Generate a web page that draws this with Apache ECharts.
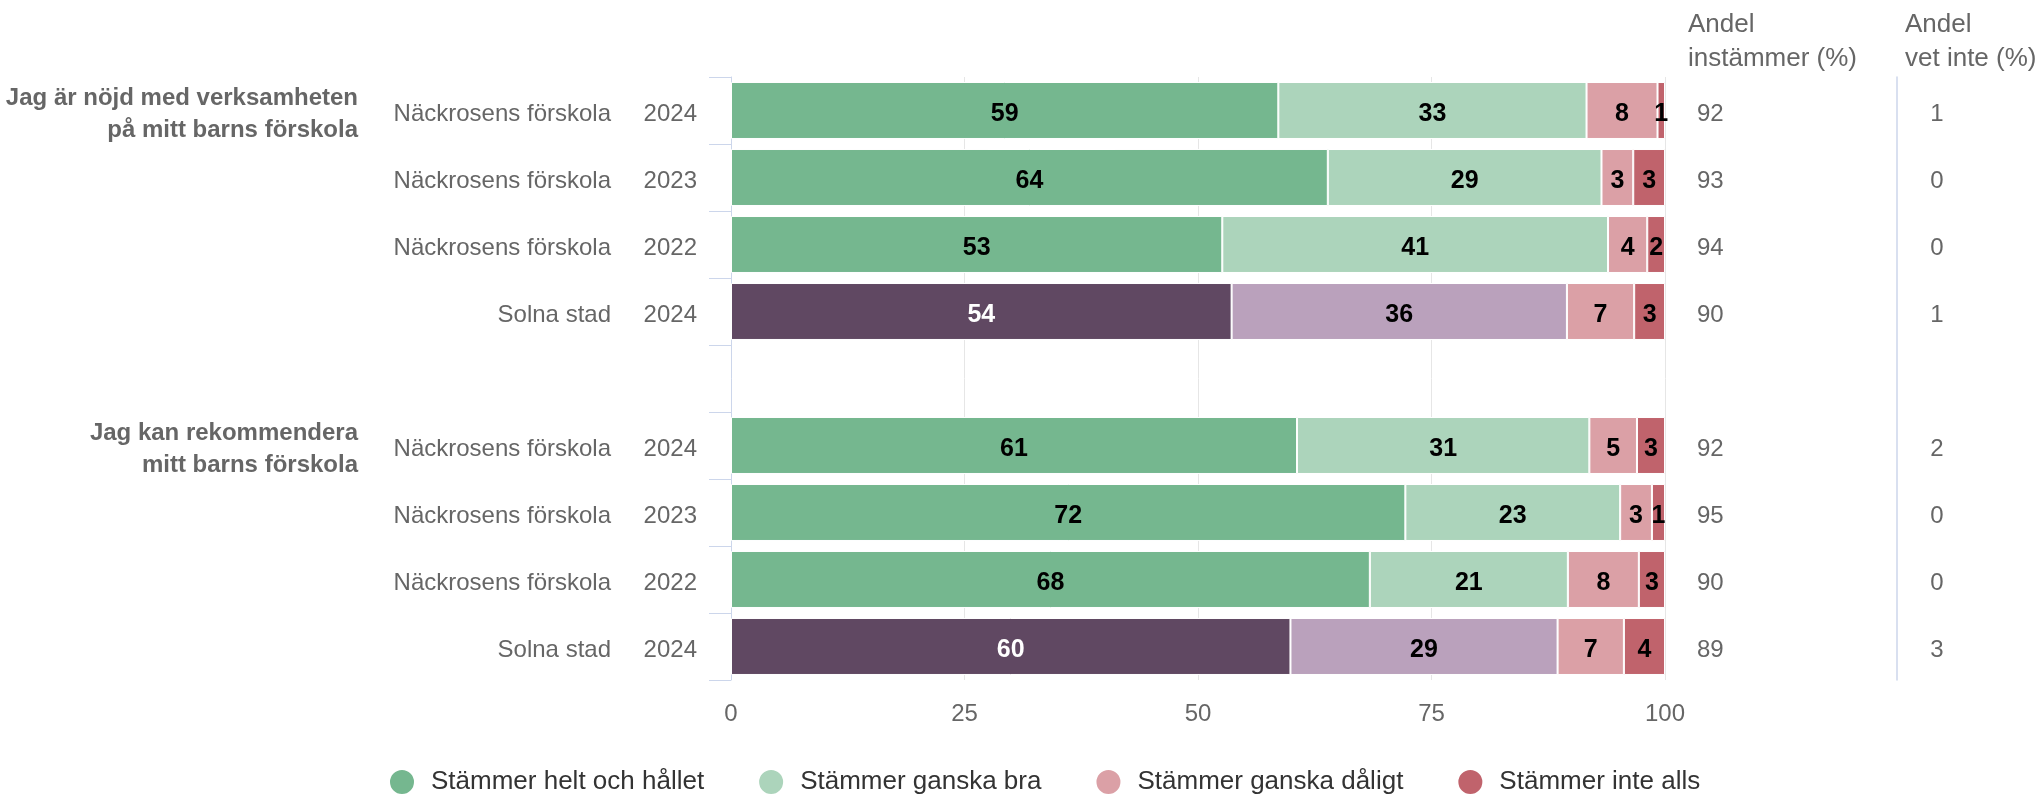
<!DOCTYPE html>
<html>
<head>
<meta charset="utf-8">
<script src="https://cdn.jsdelivr.net/npm/echarts@6/dist/echarts.min.js"></script>
<style>
html,body{margin:0;padding:0;background:#fff;}
#chart{width:2044px;height:795px;}
</style>
</head>
<body>
<div id="chart"></div>
<script>
// ---- data ----
const rowGroupLabels = [['Jag är nöjd med verksamheten', 'på mitt barns förskola'], null, null, null, null, ['Jag kan rekommendera', 'mitt barns förskola'], null, null, null];
const units = ['Näckrosens förskola', 'Näckrosens förskola', 'Näckrosens förskola', 'Solna stad', '', 'Näckrosens förskola', 'Näckrosens förskola', 'Näckrosens förskola', 'Solna stad'];
const years = ['2024', '2023', '2022', '2024', '', '2024', '2023', '2022', '2024'];
const isCity = [false, false, false, true, false, false, false, false, true];
const seriesNames = ['Stämmer helt och hållet', 'Stämmer ganska bra', 'Stämmer ganska dåligt', 'Stämmer inte alls'];
const heltOchHallet = [58.6, 63.9, 52.6, 53.6, null, 60.6, 72.2, 68.4, 59.9];
const ganskaBra     = [33.0, 29.3, 41.3, 35.9, null, 31.3, 23.0, 21.2, 28.6];
const ganskaDaligt  = [7.6, 3.4, 4.2, 7.2, null, 5.1, 3.4, 7.6, 7.1];
const inteAlls      = [0.8, 3.4, 1.9, 3.3, null, 3.0, 1.4, 2.8, 4.4];
const andelInstammer = [92, 93, 94, 90, null, 92, 95, 90, 89];
const andelVetInte   = [1, 0, 0, 1, null, 2, 0, 0, 3];
const xTicks = [0, 25, 50, 75, 100];

// ---- styles ----
const schoolColors = ['#75b78f', '#acd4bb', '#dba0a6', '#c0636c'];
const cityColors   = ['#604862', '#baa1bc', '#dba0a6', '#c0636c'];
const FONT = 'Liberation Sans, Arial, Helvetica, sans-serif';
const AXIS_BLUE = '#ccd6eb';
const TXT = '#666666';

const seriesValues = [heltOchHallet, ganskaBra, ganskaDaligt, inteAlls];
const catData = units.map((u, i) => u + '|' + years[i] + '|' + i);

const series = seriesValues.map((vals, si) => ({
  name: seriesNames[si],
  type: 'bar',
  stack: 'total',
  barCategoryGap: '15%',
  yAxisIndex: 0,
  itemStyle: { color: schoolColors[si], borderColor: '#ffffff', borderWidth: 1 },
  label: {
    show: true,
    position: 'inside',
    offset: [0, 4],
    fontFamily: FONT,
    fontSize: 25,
    fontWeight: 'bold',
    color: '#000000',
    formatter: p => (p.value == null ? '' : String(Math.round(p.value)))
  },
  emphasis: { disabled: true },
  data: vals.map((v, i) => {
    if (v == null) return '-';
    const item = { value: v };
    if (isCity[i]) {
      item.itemStyle = { color: cityColors[si] };
      if (si === 0) item.label = { color: '#ffffff' };
    }
    return item;
  })
}));

const plain = { fontFamily: FONT, fontSize: 24, color: TXT };

const chart = echarts.init(document.getElementById('chart'), null, { renderer: 'canvas' });
chart.setOption({
  animation: false,
  backgroundColor: '#ffffff',
  grid: { left: 731, right: 379, top: 77, bottom: 115, containLabel: false },
  legend: {
    data: seriesNames,
    left: 383,
    top: 763,
    icon: 'circle',
    itemWidth: 26,
    itemHeight: 26,
    itemGap: 53,
    textStyle: { fontFamily: FONT, fontSize: 26, color: '#333333', padding: [0, 0, 0, 11] }
  },
  xAxis: {
    type: 'value',
    min: 0,
    max: 100,
    interval: 25,
    axisLine: { show: false },
    axisTick: { show: false },
    splitLine: { show: true, lineStyle: { color: '#e6e6e6', width: 1 } },
    axisLabel: {
      fontFamily: FONT, fontSize: 24, color: TXT, margin: 22,
      formatter: v => (xTicks.indexOf(v) >= 0 ? String(v) : '')
    }
  },
  yAxis: [
    {
      type: 'category',
      data: catData,
      inverse: true,
      position: 'left',
      axisLine: { show: true, lineStyle: { color: AXIS_BLUE, width: 1 } },
      axisTick: { show: true, length: 22, interval: 0, lineStyle: { color: AXIS_BLUE, width: 1 } },
      axisLabel: {
        interval: 0,
        margin: 34,
        fontFamily: FONT,
        fontSize: 24,
        color: TXT,
        padding: [8, 0, 0, 0],
        formatter: (v, i) => units[i] ? '{n|' + units[i] + '}{y|' + years[i] + '}' : '',
        rich: {
          n: Object.assign({ width: 260, align: 'right' }, plain),
          y: Object.assign({ width: 86, align: 'right' }, plain)
        }
      },
      splitLine: { show: false }
    },
    {
      type: 'category',
      data: catData,
      inverse: true,
      position: 'left',
      axisLine: { show: false },
      axisTick: { show: false },
      axisLabel: {
        interval: 0,
        margin: 373,
        fontFamily: FONT,
        fontSize: 24,
        fontWeight: 'bold',
        color: TXT,
        align: 'right',
        padding: [8, 0, 0, 0],
        formatter: (v, i) => rowGroupLabels[i] ? rowGroupLabels[i].map(t => '{g|' + t + '}').join('\n') : '',
        rich: {
          g: { fontFamily: FONT, fontSize: 24, fontWeight: 'bold', color: TXT, lineHeight: 32, align: 'right' }
        }
      }
    },
    {
      type: 'category',
      data: catData,
      inverse: true,
      position: 'right',
      offset: 0,
      axisLine: { show: false },
      axisTick: { show: false },
      axisLabel: {
        interval: 0,
        margin: 32,
        align: 'left',
        fontFamily: FONT,
        fontSize: 24,
        color: TXT,
        padding: [8, 0, 0, 0],
        formatter: (v, i) => (andelInstammer[i] == null ? '' : '{v|' + andelInstammer[i] + '}'),
        rich: { v: plain }
      }
    },
    {
      type: 'category',
      data: catData,
      inverse: true,
      position: 'right',
      offset: 232,
      axisLine: { show: true, lineStyle: { color: AXIS_BLUE, width: 1.5 } },
      axisTick: { show: false },
      axisLabel: {
        interval: 0,
        margin: 40,
        align: 'center',
        fontFamily: FONT,
        fontSize: 24,
        color: TXT,
        padding: [8, 0, 0, 0],
        formatter: (v, i) => (andelVetInte[i] == null ? '' : '{v|' + andelVetInte[i] + '}'),
        rich: { v: plain }
      }
    }
  ],
  graphic: [
    {
      type: 'text', left: 1688, top: 8,
      style: { text: 'Andel\ninstämmer (%)', font: '26px ' + FONT, fill: TXT, lineHeight: 34 }
    },
    {
      type: 'text', left: 1905, top: 8,
      style: { text: 'Andel\nvet inte (%)', font: '26px ' + FONT, fill: TXT, lineHeight: 34 }
    }
  ],
  series: series
});
</script>
</body>
</html>
